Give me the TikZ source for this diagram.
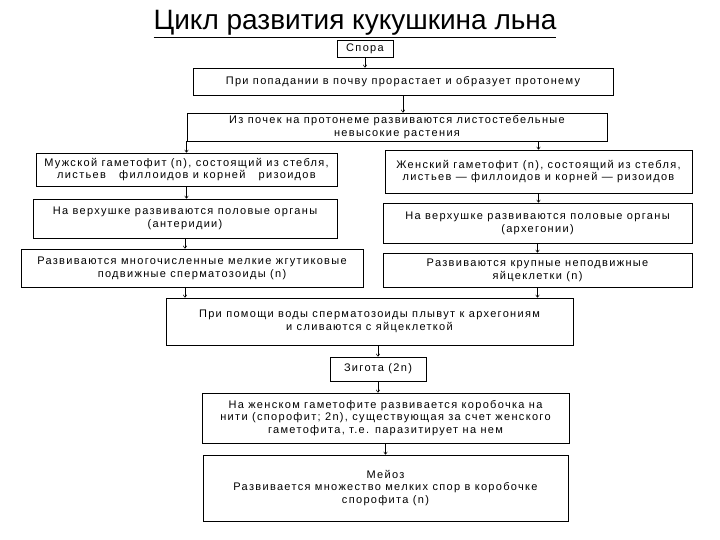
\documentclass[tikz,border=0pt]{standalone}
\usepackage{fontspec}
\setmainfont{Liberation Sans}
\newfontfamily\bodyfont[LetterSpace=12]{Liberation Sans}
\usetikzlibrary{arrows.meta}
\begin{document}
\begin{tikzpicture}[x=1pt,y=-1pt,
  box/.style={draw, line width=0.7pt, align=center, inner sep=0pt,
    font=\bodyfont\fontsize{11}{12.8}\selectfont},
  arr/.style={-{To[length=3pt,width=4pt]}, line width=0.5pt}]
\useasboundingbox (0,0) rectangle (720,540);
\node[font=\fontsize{28}{30}\selectfont, anchor=base] (title) at (355,30) {\underline{Цикл развития кукушкина льна}};
\node[box, minimum width=56pt, minimum height=17pt] (spora) at (365,48.5) {Спора};
\node[box, minimum width=420pt, minimum height=27pt] (b2) at (403,81.5) {При попадании в почву прорастает и образует протонему};
\node[box, minimum width=420pt, minimum height=28pt] (b3) at (397,127) {Из почек на протонеме развиваются листостебельные\\невысокие растения};
\node[box, minimum width=301pt, minimum height=33pt] (m1) at (186.5,169.5) {Мужской гаметофит (n), состоящий из стебля,\\листьев\hspace{1.2em}филлоидов и корней\hspace{1.2em}ризоидов};
\node[box, minimum width=307pt, minimum height=43pt] (f1) at (538.5,171.5) {Женский гаметофит (n), состоящий из стебля,\\листьев — филлоидов и корней — ризоидов};
\node[box, minimum width=304pt, minimum height=39pt] (m2) at (185,218.5) {На верхушке развиваются половые органы\\(антеридии)};
\node[box, minimum width=309pt, minimum height=40pt] (f2) at (537.5,223) {На верхушке развиваются половые органы\\(архегонии)};
\node[box, minimum width=342pt, minimum height=38pt] (m3) at (192,268) {Развиваются многочисленные мелкие жгутиковые\\подвижные сперматозоиды (n)};
\node[box, minimum width=309pt, minimum height=34pt] (f3) at (537.5,270) {Развиваются крупные неподвижные\\яйцеклетки (n)};
\node[box, minimum width=407pt, minimum height=47pt] (w) at (369.5,321.5) {При помощи воды сперматозоиды плывут к архегониям\\и сливаются с яйцеклеткой};
\node[box, minimum width=96pt, minimum height=24pt] (z) at (378,369) {Зигота (2n)};
\node[box, minimum width=367pt, minimum height=50pt] (s) at (385.5,418) {На женском гаметофите развивается коробочка на\\нити (спорофит; 2n), существующая за счет женского\\гаметофита, т.е. паразитирует на нем};
\node[box, minimum width=365pt, minimum height=66pt] (mei) at (385.5,488) {Мейоз\\Развивается множество мелких спор в коробочке\\спорофита (n)};
\draw[arr] (spora.south) -- (spora.south |- b2.north);
\draw[arr] (b2.south) -- (b2.south |- b3.north);
\draw[arr] (m1.north |- b3.south) -- (m1.north);
\draw[arr] (f1.north |- b3.south) -- (f1.north);
\draw[arr] (m1.south) -- (m1.south |- m2.north);
\draw[arr] (m2.south) -- (m2.south |- m3.north);
\draw[arr] (f1.south) -- (f1.south |- f2.north);
\draw[arr] (f2.south) -- (f2.south |- f3.north);
\draw[arr] (m2.south |- m3.south) -- (m2.south |- w.north);
\draw[arr] (f3.south) -- (f3.south |- w.north);
\draw[arr] (z.north |- w.south) -- (z.north);
\draw[arr] (z.south) -- (z.south |- s.north);
\draw[arr] (s.south) -- (s.south |- mei.north);
\end{tikzpicture}
\end{document}
